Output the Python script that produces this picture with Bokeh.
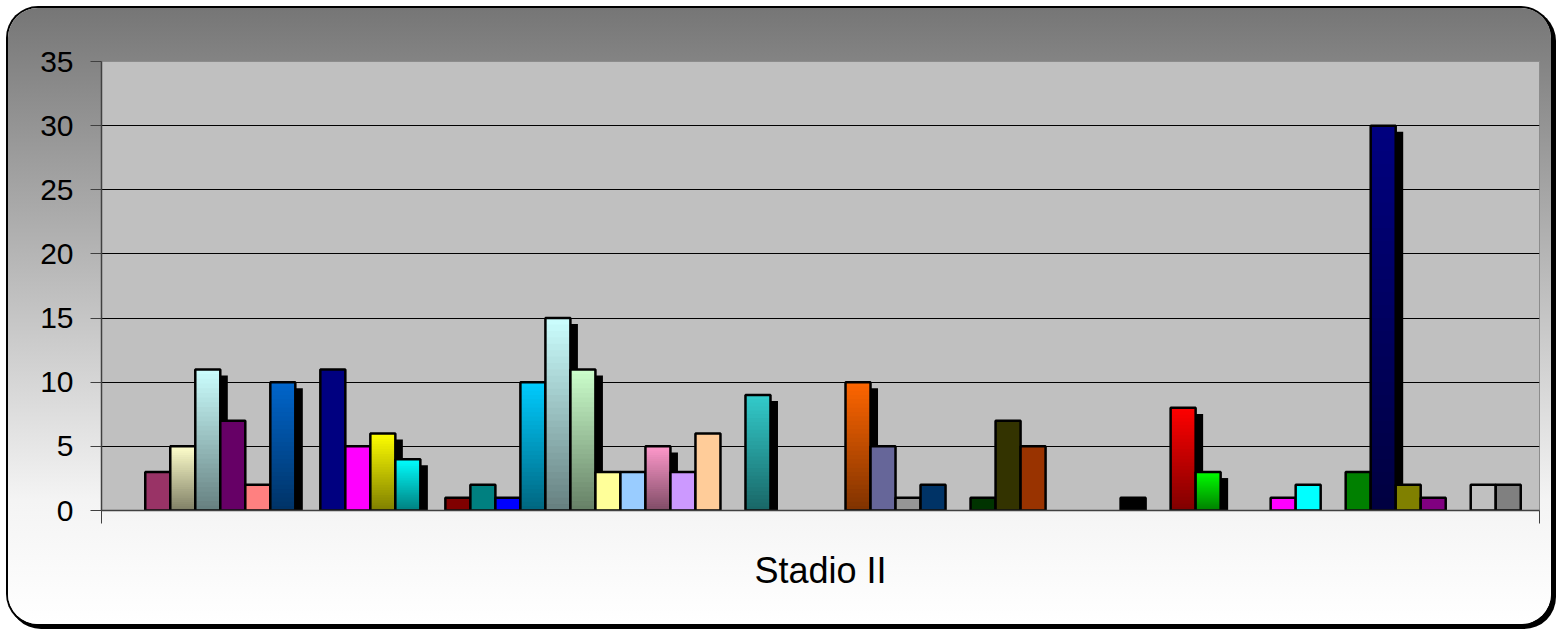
from bokeh.plotting import figure
from bokeh.models import Range1d, FixedTicker, ColumnDataSource
from bokeh.embed import file_html
from bokeh.resources import INLINE

# ---- data ----
category = "Stadio II"
values = [0, 3, 5, 11, 7, 2, 10, 0, 11, 5, 6, 4, 0, 1, 2, 1, 10, 15, 11, 3,
          3, 5, 3, 6, 0, 9, 0, 0, 0, 10, 5, 1, 2, 0, 1, 7, 5, 0, 0, 0,
          1, 0, 8, 3, 0, 0, 1, 2, 0, 3, 30, 2, 1, 0, 2, 2]
colors = ["#9999FF", "#993366", "#FFFFCC", "#CCFFFF", "#660066", "#FF8080", "#0066CC", "#CCCCFF",
          "#000080", "#FF00FF", "#FFFF00", "#00FFFF", "#800080", "#800000", "#008080", "#0000FF",
          "#00CCFF", "#CCFFFF", "#CCFFCC", "#FFFF99", "#99CCFF", "#FF99CC", "#CC99FF", "#FFCC99",
          "#3366FF", "#33CCCC", "#99CC00", "#FFCC00", "#FF9900", "#FF6600", "#666699", "#969696",
          "#003366", "#339966", "#003300", "#333300", "#993300", "#993366", "#333399", "#333333",
          "#000000", "#FFFFFF", "#FF0000", "#00FF00", "#0000FF", "#FFFF00", "#FF00FF", "#00FFFF",
          "#800000", "#008000", "#000080", "#808000", "#800080", "#008080", "#C0C0C0", "#808080"]
gradient_series = [2, 3, 6, 10, 11, 16, 17, 18, 21, 25, 29, 42, 43, 50]
y_ticks = [0, 5, 10, 15, 20, 25, 30, 35]
grid_ticks = [5, 10, 15, 20, 25, 30]

# ---- styling constants ----
N_STRIPS = 30
SHADOW_DX = 0.3    # in bar units
SHADOW_DY = 0.47   # in value units
BAR_LINE = 2.5


def shade(hexc, f):
    r, g, b = int(hexc[1:3], 16), int(hexc[3:5], 16), int(hexc[5:7], 16)
    return "#%02x%02x%02x" % (int(r * f), int(g * f), int(b * f))


rows = {k: [] for k in ["left", "right", "bottom", "top", "fill", "fa", "lc", "la", "lw"]}


def add(left, right, bottom, top, fill, fa, lc, la, lw):
    for k, v in zip(rows.keys(), [left, right, bottom, top, fill, fa, lc, la, lw]):
        rows[k].append(v)


for i, (v, c) in enumerate(zip(values, colors)):
    if v <= 0:
        continue
    if i in gradient_series:
        add(i + SHADOW_DX, i + 1 + SHADOW_DX, 0, v - SHADOW_DY, "#000000", 1.0, "#000000", 0.0, 1)
        # strips drawn from the top down, each reaching the baseline -> no seams
        for j in range(N_STRIPS - 1, -1, -1):
            f = 0.5 + 0.5 * (j + 0.5) / N_STRIPS
            col = shade(c, f)
            add(i, i + 1, 0, v * (j + 1) / N_STRIPS, col, 1.0, col, 0.0, 1)
        add(i, i + 1, 0, v, "#000000", 0.0, "#000000", 1.0, BAR_LINE)
    else:
        add(i, i + 1, 0, v, c, 1.0, "#000000", 1.0, BAR_LINE)

src = ColumnDataSource(rows)

W, H = 1543, 616
p = figure(width=W, height=H,
           x_range=Range1d(-0.75, len(values) + 0.75), y_range=Range1d(0, 35),
           output_backend="svg", toolbar_location=None,
           min_border_left=93, min_border_right=12, min_border_top=53, min_border_bottom=114)

p.styles = {
    "margin-left": "8px",
    "margin-top": "8px",
    "background": "linear-gradient(to bottom, #767676 0%, #bdbdbd 45%, #f4f4f4 80%, #ffffff 100%)",
    "border-radius": "30px",
    "box-shadow": "0 0 0 2px #000000, 3px 3px 0 2px #000000",
}
p.border_fill_alpha = 0
p.background_fill_color = "#C0C0C0"
p.outline_line_color = "#8c8c8c"
p.outline_line_width = 1

p.quad(source=src, left="left", right="right", bottom="bottom", top="top",
       fill_color="fill", fill_alpha="fa", line_color="lc", line_alpha="la", line_width="lw")

p.xgrid.visible = False
p.ygrid.ticker = FixedTicker(ticks=grid_ticks)
p.ygrid.grid_line_color = "#000000"
p.ygrid.grid_line_width = 1

ya = p.yaxis[0]
ya.ticker = FixedTicker(ticks=y_ticks)
ya.major_label_text_font = "Liberation Sans"
ya.major_label_text_font_size = "30px"
ya.major_label_text_color = "#000000"
ya.axis_line_color = "#404040"
ya.axis_line_width = 1.5
ya.major_tick_line_color = "#404040"
ya.major_tick_out = 11
ya.major_tick_in = 0
ya.minor_tick_line_color = None
ya.major_label_standoff = 17

xa = p.xaxis[0]
edges = [-0.75, len(values) + 0.75]
xa.ticker = FixedTicker(ticks=edges)
xa.major_label_overrides = {e: "" for e in edges}
xa.axis_line_color = "#404040"
xa.axis_line_width = 1.5
xa.major_tick_line_color = "#404040"
xa.major_tick_out = 13
xa.major_tick_in = 0
xa.minor_tick_line_color = None
xa.axis_label = category
xa.axis_label_text_font = "Liberation Sans"
xa.axis_label_text_font_size = "36px"
xa.axis_label_text_font_style = "normal"
xa.axis_label_text_color = "#000000"
xa.axis_label_standoff = 26

open("out.html", "w").write(file_html(p, INLINE))
